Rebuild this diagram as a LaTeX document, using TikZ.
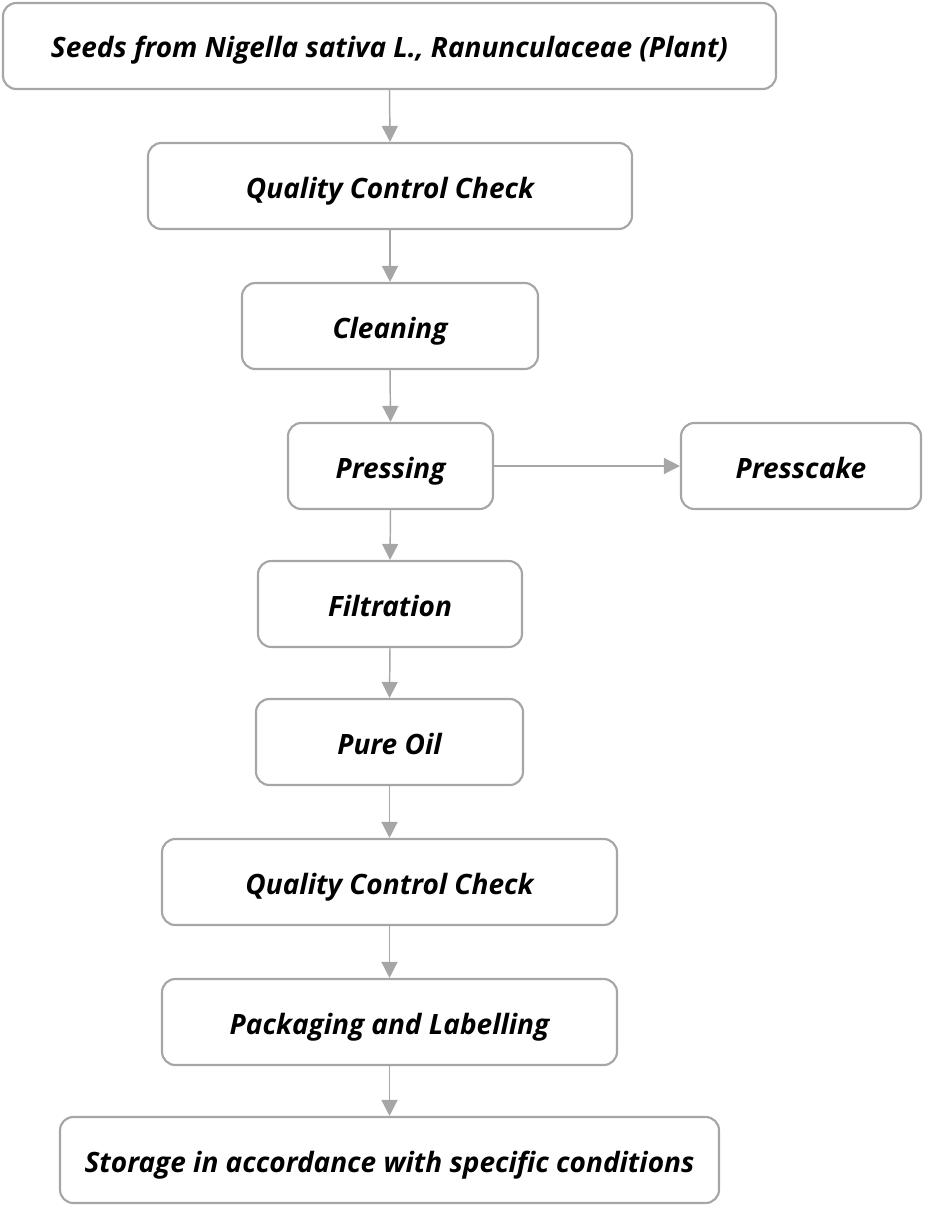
\documentclass[tikz,border=0pt]{standalone}
\usepackage{fontspec}
\setmainfont{Open Sans}
\usetikzlibrary{arrows.meta}
\definecolor{bordergray}{HTML}{A6A6A6}
\begin{document}
\begin{tikzpicture}[x=0.75pt,y=-0.75pt,
  stepbox/.style={draw=bordergray,line width=1.6pt,rounded corners=10pt,fill=white,
    font=\fontsize{21}{24}\selectfont\bfseries\itshape,inner sep=0pt,text depth=2pt,text height=20pt},
  conn/.style={draw=bordergray,line width=1.1pt,-{Triangle[length=12pt,width=12pt]}}]
\useasboundingbox (0,0) rectangle (924,1209);
\newcommand{\stepnode}[6]{\node[stepbox,minimum width=#4*0.75pt,minimum height=#5*0.75pt] (#1) at (#2,#3) {#6};}
\stepnode{seeds}{389.5}{46}{773}{86}{Seeds from Nigella sativa L., Ranunculaceae (Plant)}
\stepnode{qc1}{390}{186}{484}{86}{Quality Control Check}
\stepnode{clean}{390}{326}{296}{86}{Cleaning}
\stepnode{press}{390.5}{466}{205}{86}{Pressing}
\stepnode{cake}{801}{466}{240}{86}{Presscake}
\stepnode{filt}{390}{604}{264}{86}{Filtration}
\stepnode{oil}{389.5}{742}{267}{86}{Pure Oil}
\stepnode{qc2}{389.5}{882}{455}{86}{Quality Control Check}
\stepnode{pack}{389.5}{1022}{455}{86}{Packaging and Labelling}
\stepnode{store}{389.5}{1160}{659}{86}{Storage in accordance with specific conditions}
\draw[conn] (seeds.south) -- (qc1.north);
\draw[conn] (qc1.south) -- (clean.north);
\draw[conn] (clean.south) -- (press.north);
\draw[conn] (press.east) -- (cake.west);
\draw[conn] (press.south) -- (filt.north);
\draw[conn] (filt.south) -- (oil.north);
\draw[conn] (oil.south) -- (qc2.north);
\draw[conn] (qc2.south) -- (pack.north);
\draw[conn] (pack.south) -- (store.north);
\end{tikzpicture}
\end{document}
